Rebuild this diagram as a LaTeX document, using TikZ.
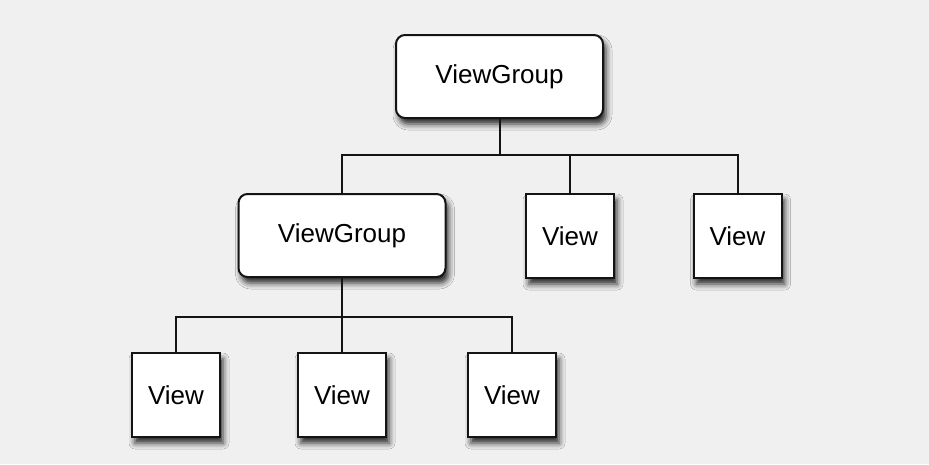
\documentclass[tikz,border=0pt]{standalone}
\usepackage{fontspec}
\setmainfont{Liberation Sans}
\usetikzlibrary{shadows.blur}
\definecolor{bgcol}{RGB}{240,240,240}
\definecolor{edgecol}{RGB}{20,20,20}
\tikzset{
  box/.style={draw=edgecol, line width=2pt, fill=white, inner sep=0pt,
    font=\fontsize{26}{30}\selectfont,
    blur shadow={shadow xshift=3pt, shadow yshift=-6pt,
      shadow blur radius=6pt, shadow opacity=85}},
  group/.style={box, rounded corners=9pt, minimum width=207pt, minimum height=83pt},
  leaf/.style={box, minimum width=88pt, minimum height=84pt},
  link/.style={draw=edgecol, line width=2pt}
}
\begin{document}
\begin{tikzpicture}[x=1pt, y=-1pt]
  \fill[bgcol] (0,0) rectangle (929,464);
  \useasboundingbox (0,0) rectangle (929,464);

  % bus lines of the two tree levels
  \coordinate (busA) at (0,155);
  \coordinate (busB) at (0,317);

  \node[group] (root) at (499.5,76.5) {ViewGroup};
  \node[group] (sub)  at (342,235.5) {ViewGroup};
  \node[leaf]  (va)   at (570,236) {View};
  \node[leaf]  (vb)   at (737.5,236) {View};
  \node[leaf]  (vc)   at (176,395) {View};
  \node[leaf]  (vd)   at (342,395) {View};
  \node[leaf]  (ve)   at (512,395) {View};

  % connectors
  \foreach \c in {sub,va,vb}
    \draw[link] (root.south) -- (root.south |- busA) -| (\c.north);
  \foreach \c in {vc,vd,ve}
    \draw[link] (sub.south) -- (sub.south |- busB) -| (\c.north);
\end{tikzpicture}
\end{document}
